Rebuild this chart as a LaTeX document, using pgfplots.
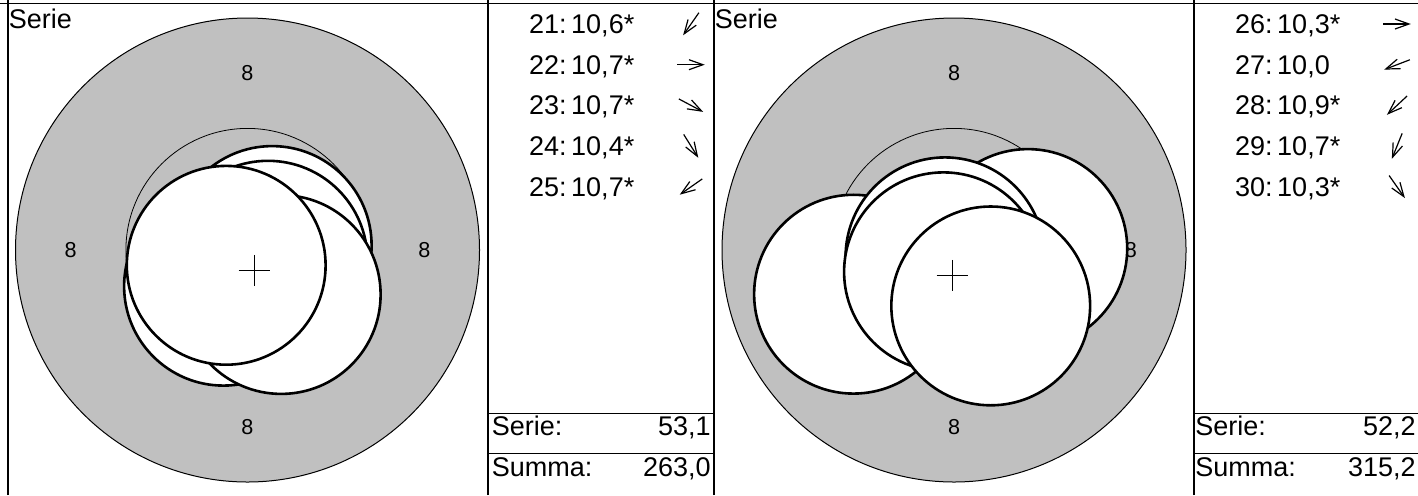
\documentclass[border=0pt]{standalone}
\usepackage{fontspec}
\setmainfont{Liberation Sans}
\usepackage{pgfplots}
\usepackage{pgfplotstable}
\pgfplotsset{compat=1.18}
\usetikzlibrary{arrows.meta}
\definecolor{ringgray}{RGB}{192,192,192}

% shot centres in mm from the target centre (air rifle, rings 8 and 9)
\pgfplotstableread{
x y
-0.543 -0.819
0.559 0.102
0.464 -0.231
0.763 -1.007
-0.482 -0.346
}\serieA
\pgfplotstableread{
x y
1.670 0.034
-2.274 -1.000
-0.204 -0.154
-0.238 -0.493
0.831 -1.265
}\serieB

\pgfplotsset{target/.style={scale only axis, width=243.05pt, height=243.05pt,
  xmin=-5.5, xmax=5.5, ymin=-5.5, ymax=5.5, axis lines=none, clip=false, anchor=center}}

\newcommand\rings{%
  \addplot[only marks, mark=*, mark size=116pt,
    mark options={fill=ringgray, draw=black, line width=0.5pt}] coordinates {(0,0)};
  \addplot[only marks, mark=o, mark size=60.8pt,
    mark options={draw=black, line width=0.4pt}] coordinates {(0,0)};
  \addplot[draw=none, mark=none, point meta=explicit symbolic, nodes near coords,
    nodes near coords style={anchor=center, inner sep=0pt, font=\fontsize{10.8}{12}\selectfont}]
    coordinates {(0,4)[8] (0,-4)[8] (-4,0)[8] (4,0)[8]};
}
\newcommand\shots[1]{%
  \addplot[only marks, mark=*, mark size=49.7pt,
    mark options={fill=white, draw=black, line width=1.3pt}] table {#1};
}
% #1 panel x, #2 baseline (px from top), #3 shot no, #4 value, #5 direction
\newcommand\shotrow[5]{%
  \node[anchor=base west, inner sep=0pt] at (#1+40.8, 495-#2) {#3:\,#4};
  \draw[line width=0.6pt, -{Straight Barb[length=7pt,width=5pt]}]
    (#1+203, 495-#2+9.3) ++(#5+180:13.75) -- ++(#5:27.5);
}

\begin{document}
\begin{tikzpicture}[x=0.5pt, y=0.5pt, font=\fontsize{13.5}{16}\selectfont]
\path[use as bounding box] (0,0) rectangle (1418,495);

\begin{axis}[target, at={(123.75pt,122.5pt)}]
  \rings
  \shots{\serieA}
  \addplot[only marks, mark=+, mark size=7.75pt, mark options={line width=0.6pt}]
    coordinates {(0.152,-0.460)};
\end{axis}

\begin{axis}[target, at={(477pt,122.5pt)}]
  \rings
  \shots{\serieB}
  \addplot[only marks, mark=+, mark size=7.75pt, mark options={line width=0.6pt}]
    coordinates {(-0.043,-0.576)};
\end{axis}

% frame lines
\draw[line width=0.6pt] (0,491.5) -- (1418,491.5);
\foreach \xx in {8,488,714,1194} \draw[line width=0.6pt] (\xx,0) -- (\xx,495);
\foreach \xa/\xb in {488/714,1194/1418} {
  \draw[line width=0.6pt] (\xa,81.5) -- (\xb,81.5);
  \draw[line width=0.6pt] (\xa,41.5) -- (\xb,41.5);
}

\node[anchor=base west, inner sep=0pt] at (8.5,466.7) {Serie};
\node[anchor=base west, inner sep=0pt] at (714.5,466.7) {Serie};

\shotrow{488}{33.3}{21}{10,6*}{235}
\shotrow{488}{74}{22}{10,7*}{0}
\shotrow{488}{114.7}{23}{10,7*}{-28}
\shotrow{488}{155.4}{24}{10,4*}{-58}
\shotrow{488}{196.1}{25}{10,7*}{215}

\shotrow{1194}{33.3}{26}{10,3*}{0}
\shotrow{1194}{74}{27}{10,0}{201}
\shotrow{1194}{114.7}{28}{10,9*}{223}
\shotrow{1194}{155.4}{29}{10,7*}{248}
\shotrow{1194}{196.1}{30}{10,3*}{-55}

\node[anchor=base west, inner sep=0pt] at (491.5,60) {Serie:};
\node[anchor=base east, inner sep=0pt] at (711,60) {53,1};
\node[anchor=base west, inner sep=0pt] at (491.5,19) {Summa:};
\node[anchor=base east, inner sep=0pt] at (711,19) {263,0};

\node[anchor=base west, inner sep=0pt] at (1195,60) {Serie:};
\node[anchor=base east, inner sep=0pt] at (1416,60) {52,2};
\node[anchor=base west, inner sep=0pt] at (1195,19) {Summa:};
\node[anchor=base east, inner sep=0pt] at (1416,19) {315,2};
\end{tikzpicture}
\end{document}
